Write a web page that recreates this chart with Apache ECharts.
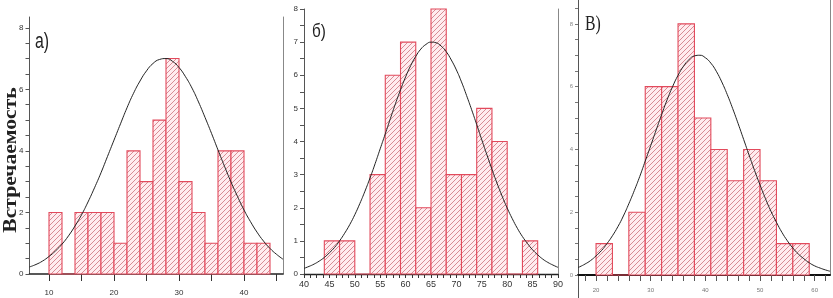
<!DOCTYPE html>
<html>
<head>
<meta charset="utf-8">
<script src="https://cdn.jsdelivr.net/npm/echarts@6/dist/echarts.min.js"></script>
<style>html,body{margin:0;padding:0;background:#fff}#c{width:833px;height:298px}</style>
</head>
<body>
<div id="c"></div>
<script>
// ---- Panel а) ----
var aBinStart = [10,12,14,16,18,20,22,24,26,28,30,32,34,36,38,40,42];
var aCounts   = [2,0,2,2,2,1,4,3,5,7,3,2,1,4,4,1,1];
var aBinWidth = 2;
var aCurveX = [7,8,9,10,11,12,13,14,15,16,17,18,19,20,21,22,23,24,25,26,27,28,29,30,31,32,33,34,35,36,37,38,39,40,41,42,43,44,45,46];
var aCurveY = [0.23,0.31,0.42,0.57,0.75,0.97,1.24,1.56,1.92,2.34,2.80,3.29,3.82,4.35,4.88,5.40,5.87,6.27,6.60,6.84,6.97,7.00,6.91,6.71,6.41,6.04,5.59,5.09,4.57,4.03,3.50,2.99,2.52,2.08,1.70,1.36,1.07,0.83,0.64,0.48];
var aXLabels = [10,20,30,40];
var aYLabels = [0,2,4,6,8];

// ---- Panel б) ----
var bBinStart = [44,47,50,53,56,59,62,65,68,71,74,77,80,83];
var bCounts   = [1,1,0,3,6,7,2,8,3,3,5,4,0,1];
var bBinWidth = 3;
var bCurveX = [40,41,42,43,44,45,46,47,48,49,50,51,52,53,54,55,56,57,58,59,60,61,62,63,64,65,66,67,68,69,70,71,72,73,74,75,76,77,78,79,80,81,82,83,84,85,86,87,88,89,90];
var bCurveY = [0.17,0.23,0.30,0.39,0.50,0.64,0.80,1.00,1.23,1.49,1.79,2.13,2.50,2.90,3.33,3.78,4.23,4.69,5.14,5.56,5.95,6.29,6.57,6.79,6.93,7.00,6.98,6.88,6.71,6.46,6.16,5.80,5.39,4.96,4.51,4.05,3.60,3.16,2.74,2.35,1.99,1.67,1.38,1.13,0.92,0.73,0.58,0.45,0.35,0.27,0.20];
var bXLabels = [40,45,50,55,60,65,70,75,80,85,90];
var bYLabels = [0,1,2,3,4,5,6,7,8];

// ---- Panel в) ----
var cBinStart = [20,23,26,29,32,35,38,41,44,47,50,53,56];
var cCounts   = [1,0,2,6,6,8,5,4,3,4,3,1,1];
var cBinWidth = 3;
var cCurveX = [16.7,17,18,19,20,21,22,23,24,25,26,27,28,29,30,31,32,33,34,35,36,37,38,39,40,41,42,43,44,45,46,47,48,49,50,51,52,53,54,55,56,57,58,59,60,61,62,62.8];
var cCurveY = [0.24,0.26,0.35,0.46,0.61,0.78,1.00,1.25,1.54,1.88,2.27,2.69,3.14,3.63,4.12,4.62,5.11,5.58,6.00,6.36,6.65,6.86,6.98,7.00,6.92,6.75,6.49,6.15,5.75,5.30,4.82,4.32,3.82,3.33,2.87,2.43,2.03,1.68,1.36,1.09,0.86,0.67,0.52,0.39,0.29,0.22,0.16,0.12];
var cXLabels = [20,30,40,50,60];
var cYLabels = [0,2,4,6,8];

var yTitle = 'Встречаемость';
var panelTitles = ['а)', 'б)', 'В)'];

function range(a, b, s) { var r = []; for (var v = a; v <= b + 1e-9; v += s) r.push(+v.toFixed(3)); return r; }

// hatch pattern
var pc = document.createElement('canvas');
var S = 5; pc.width = S; pc.height = S;
var g = pc.getContext('2d');
g.fillStyle = 'rgba(255,236,239,1)'; g.fillRect(0,0,S,S);
g.strokeStyle = 'rgba(200,100,112,0.9)'; g.lineWidth = 0.8;
g.beginPath();
g.moveTo(0, S); g.lineTo(S, 0);
g.moveTo(-1, 1); g.lineTo(1, -1);
g.moveTo(S-1, S+1); g.lineTo(S+1, S-1);
g.stroke();
var hatch = { image: pc, repeat: 'repeat' };

function bins(starts, counts, w) {
  return starts.map(function (s, i) { return [s, s + w, counts[i]]; });
}
function curve(xs, ys) { return xs.map(function (x, i) { return [x, ys[i]]; }); }

function renderBar(params, api) {
  var p0 = api.coord([api.value(0), api.value(2)]);
  var p1 = api.coord([api.value(1), 0]);
  return {
    type: 'rect',
    shape: { x: p0[0], y: p0[1], width: p1[0] - p0[0], height: p1[1] - p0[1] },
    style: { fill: hatch, stroke: '#e24a5c', lineWidth: 1.1 }
  };
}

var grids = [
  { left: 29.5, top: 17, width: 253.5, height: 257, outerBoundsMode: 'none', containLabel: false },
  { left: 304, top: 9, width: 254, height: 265, outerBoundsMode: 'none', containLabel: false },
  { left: 578, top: 0, width: 252, height: 275, outerBoundsMode: 'none', containLabel: false },
  // frame-only grid: carries panel в)'s left frame line down to the bottom edge
  { left: 578, top: 0, width: 252, height: 298, outerBoundsMode: 'none', containLabel: false }
];

var xAxes = [
  { gridIndex: 0, type: 'value', min: 7, max: 46,
    axisLine: { lineStyle: { color: '#222', width: 1.6 } },
    axisTick: { customValues: [10,15,20,25,30,35,40,45], length: 7, lineStyle: { color: '#333' } },
    axisLabel: { customValues: aXLabels, margin: 15, fontSize: 8, color: '#333' },
    splitLine: { show: false } },
  { gridIndex: 1, type: 'value', min: 40, max: 90, interval: 5,
    axisLine: { lineStyle: { color: '#222', width: 1.4 } },
    axisTick: { customValues: range(40, 90, 1.25), length: 4, lineStyle: { color: '#333' } },
    axisLabel: { customValues: bXLabels, margin: 6, fontSize: 9, color: '#333' },
    splitLine: { show: false } },
  { gridIndex: 2, type: 'value', min: 16.7, max: 62.8,
    axisLine: { lineStyle: { color: '#111', width: 2 } },
    axisTick: { customValues: range(18, 62, 2), length: 6, lineStyle: { color: '#555' } },
    axisLabel: { customValues: cXLabels, margin: 12, fontSize: 6, color: '#777' },
    splitLine: { show: false } },
  { gridIndex: 3, type: 'value', min: 0, max: 1, show: false }
];

var yAxes = [
  { gridIndex: 0, type: 'value', min: 0, max: 8.35, position: 'left',
    axisLine: { show: true, lineStyle: { color: '#555', width: 1 } },
    axisTick: { show: true, customValues: range(0, 8, 0.5), length: 4, lineStyle: { color: '#555' } },
    axisLabel: { customValues: aYLabels, margin: 6, fontSize: 8, color: '#333' },
    splitLine: { show: false } },
  { gridIndex: 1, type: 'value', min: 0, max: 8, position: 'left',
    axisLine: { show: true, lineStyle: { color: '#555', width: 1 } },
    axisTick: { show: true, customValues: range(0, 8, 0.5), length: 4, lineStyle: { color: '#555' } },
    axisLabel: { customValues: bYLabels, margin: 6, fontSize: 8, color: '#333' },
    splitLine: { show: false } },
  { gridIndex: 2, type: 'value', min: 0, max: 8.76, position: 'left',
    axisLine: { show: true, lineStyle: { color: '#555', width: 1 } },
    axisTick: { show: true, customValues: range(0, 8.5, 0.5), length: 3, lineStyle: { color: '#777' } },
    axisLabel: { customValues: cYLabels, margin: 5, fontSize: 6, color: '#888' },
    splitLine: { show: false } },
  // right frame lines
  { gridIndex: 0, type: 'value', min: 0, max: 8.35, position: 'right',
    axisLine: { show: true, lineStyle: { color: '#888', width: 1 } }, axisTick: { show: false }, axisLabel: { show: false }, splitLine: { show: false } },
  { gridIndex: 1, type: 'value', min: 0, max: 8, position: 'right',
    axisLine: { show: true, lineStyle: { color: '#888', width: 1 } }, axisTick: { show: false }, axisLabel: { show: false }, splitLine: { show: false } },
  { gridIndex: 2, type: 'value', min: 0, max: 8.76, position: 'right',
    axisLine: { show: true, lineStyle: { color: '#888', width: 1 } }, axisTick: { show: false }, axisLabel: { show: false }, splitLine: { show: false } },
  { gridIndex: 3, type: 'value', min: 0, max: 1, position: 'left',
    axisLine: { show: true, lineStyle: { color: '#555', width: 1 } }, axisTick: { show: false }, axisLabel: { show: false }, splitLine: { show: false } }
];

var series = [];
[[aBinStart, aCounts, aBinWidth, aCurveX, aCurveY],
 [bBinStart, bCounts, bBinWidth, bCurveX, bCurveY],
 [cBinStart, cCounts, cBinWidth, cCurveX, cCurveY]].forEach(function (p, i) {
  series.push({ type: 'custom', xAxisIndex: i, yAxisIndex: i, renderItem: renderBar,
    encode: { x: [0, 1], y: 2 }, data: bins(p[0], p[1], p[2]), z: 2, silent: true, animation: false });
  series.push({ type: 'line', xAxisIndex: i, yAxisIndex: i, data: curve(p[3], p[4]), smooth: true,
    symbol: 'none', lineStyle: { color: '#222', width: 1 }, z: 3, silent: true, animation: false });
});

var chart = echarts.init(document.getElementById('c'), null, { renderer: 'canvas' });
chart.setOption({
  backgroundColor: '#fff',
  animation: false,
  grid: grids,
  xAxis: xAxes,
  yAxis: yAxes,
  series: series,
  graphic: [
    { type: 'text', x: 11, y: 160, rotation: Math.PI / 2, scaleX: 1.2,
      style: { text: yTitle, font: 'bold 18px "Liberation Serif", serif', fill: '#222', textAlign: 'center', textVerticalAlign: 'middle' } },
    { type: 'text', x: 35, y: 31, scaleX: 0.72,
      style: { text: panelTitles[0], font: '22px "Liberation Sans", sans-serif', fill: '#222' } },
    { type: 'text', x: 312, y: 23, scaleX: 0.85,
      style: { text: panelTitles[1], font: '18px "Liberation Sans", sans-serif', fill: '#222' } },
    { type: 'text', x: 585, y: 14, scaleX: 0.75,
      style: { text: panelTitles[2], font: '21px "Liberation Serif", serif', fill: '#222' } }
  ]
});
</script>
</body>
</html>
